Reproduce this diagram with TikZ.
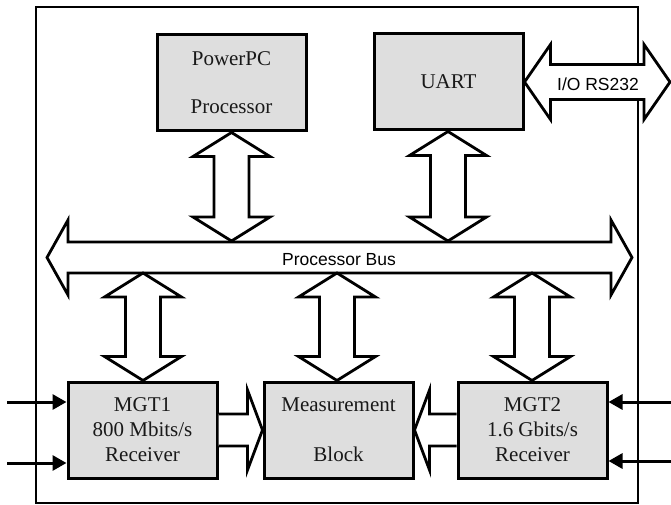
\documentclass[tikz,border=0pt]{standalone}
\usepackage{fontspec}
\setmainfont{Liberation Serif}
\newfontfamily\arialf{Liberation Sans}
\usetikzlibrary{calc,arrows.meta}
\definecolor{boxfill}{HTML}{DEDEDE}
\tikzset{
  blockbox/.style={draw=black, line width=3pt, fill=boxfill, minimum width=149pt, minimum height=96pt,
    inner sep=0pt, align=center, font=\fontsize{21}{25}\selectfont, text=black!90},
  blk/.style={draw=black, line width=2.8pt, fill=white, line join=miter},
  thin/.style={line width=3pt, -{Triangle[length=14pt,width=15pt]}},
  frame/.style={draw=black, line width=2.2pt},
  lbl/.style={font=\arialf\fontsize{17.5}{20}\selectfont, inner sep=0pt}
}
% vertical double block arrow: #1 top tip, #2 bottom tip
\newcommand\vdarr[2]{%
  \draw[blk] let \p1=(#1), \p2=(#2) in
    (\x1,\y1) -- (\x1+38.5pt,\y1-24pt) -- (\x1+17.5pt,\y1-24pt) -- (\x1+17.5pt,\y2+24pt)
    -- (\x1+38.5pt,\y2+24pt) -- (\x1,\y2) -- (\x1-38.5pt,\y2+24pt) -- (\x1-17.5pt,\y2+24pt)
    -- (\x1-17.5pt,\y1-24pt) -- (\x1-38.5pt,\y1-24pt) -- cycle;}
% horizontal double block arrow: #1 left tip, #2 right tip, #3 shaft half, #4 head half, #5 head length
\newcommand\hdarr[5]{%
  \draw[blk] let \p1=(#1), \p2=(#2) in
    (\x1,\y1) -- (\x1+#5,\y1+#4) -- (\x1+#5,\y1+#3) -- (\x2-#5,\y1+#3)
    -- (\x2-#5,\y1+#4) -- (\x2,\y1) -- (\x2-#5,\y1-#4) -- (\x2-#5,\y1-#3)
    -- (\x1+#5,\y1-#3) -- (\x1+#5,\y1-#4) -- cycle;}
% single block arrow from box edge #1 to tip #2 (horizontal)
\newcommand\hsarr[2]{%
  \draw[blk] let \p1=(#1), \p2=(#2), \n1={ifthenelse(\x2>\x1,1,-1)} in
    (\x1,\y1+16pt) -- (\x2-\n1*15pt,\y1+16pt) -- (\x2-\n1*15pt,\y1+40pt) -- (\x2,\y1)
    -- (\x2-\n1*15pt,\y1-40pt) -- (\x2-\n1*15pt,\y1-16pt) -- (\x1,\y1-16pt);}
\begin{document}
\begin{tikzpicture}[x=1pt,y=-1pt]
\useasboundingbox (0,0) rectangle (671,505);
\fill[white] (0,0) rectangle (671,505);
% outer frame
\draw[frame] (36,7) rectangle (638,503);
% boxes
\node[blockbox] (ppc) at (231.5,83) {PowerPC\\[23pt]Processor};
\node[blockbox] (uart) at (448.5,82) {UART};
\node[blockbox] (mgt1) at (142.5,430) {MGT1\\800 Mbits/s\\Receiver};
\node[blockbox] (meas) at (338.5,430) {Measurement\\[25pt]Block};
\node[blockbox] (mgt2) at (532.5,430) {MGT2\\1.6 Gbits/s\\Receiver};
% bus
\coordinate (busL) at (47,257.5);
\coordinate (busR) at (632,257.5);
\hdarr{busL}{busR}{15.5pt}{37.5pt}{21pt}
\node[lbl] (buslbl) at (339,260) {Processor Bus};
% vertical arrows
\coordinate (bt1) at (231.5,241);
\coordinate (bt2) at (448,241);
\vdarr{ppc.south}{bt1}
\vdarr{uart.south -| bt2}{bt2}
\coordinate (bb1) at (143,273);
\coordinate (bb2) at (337,273);
\coordinate (bb3) at (532,273);
\vdarr{bb1}{bb1 |- mgt1.north}
\vdarr{bb2}{bb2 |- meas.north}
\vdarr{bb3}{bb3 |- mgt2.north}
% I/O RS232
\coordinate (ioR) at (670,82);
\hdarr{uart.east}{ioR}{17.5pt}{37.5pt}{26pt}
\node[lbl] (iolbl) at (598,84) {I/O RS232};
% data arrows into measurement
\hsarr{mgt1.east}{meas.west}
\hsarr{mgt2.west |- meas.west}{meas.east}
% thin input arrows
\coordinate (inL1) at (7,402);
\coordinate (inL2) at (7,463);
\coordinate (inR1) at (671,402);
\coordinate (inR2) at (671,461);
\draw[thin] (inL1) -- (inL1 -| mgt1.west);
\draw[thin] (inL2) -- (inL2 -| mgt1.west);
\draw[thin] (inR1) -- (inR1 -| mgt2.east);
\draw[thin] (inR2) -- (inR2 -| mgt2.east);
\end{tikzpicture}
\end{document}
